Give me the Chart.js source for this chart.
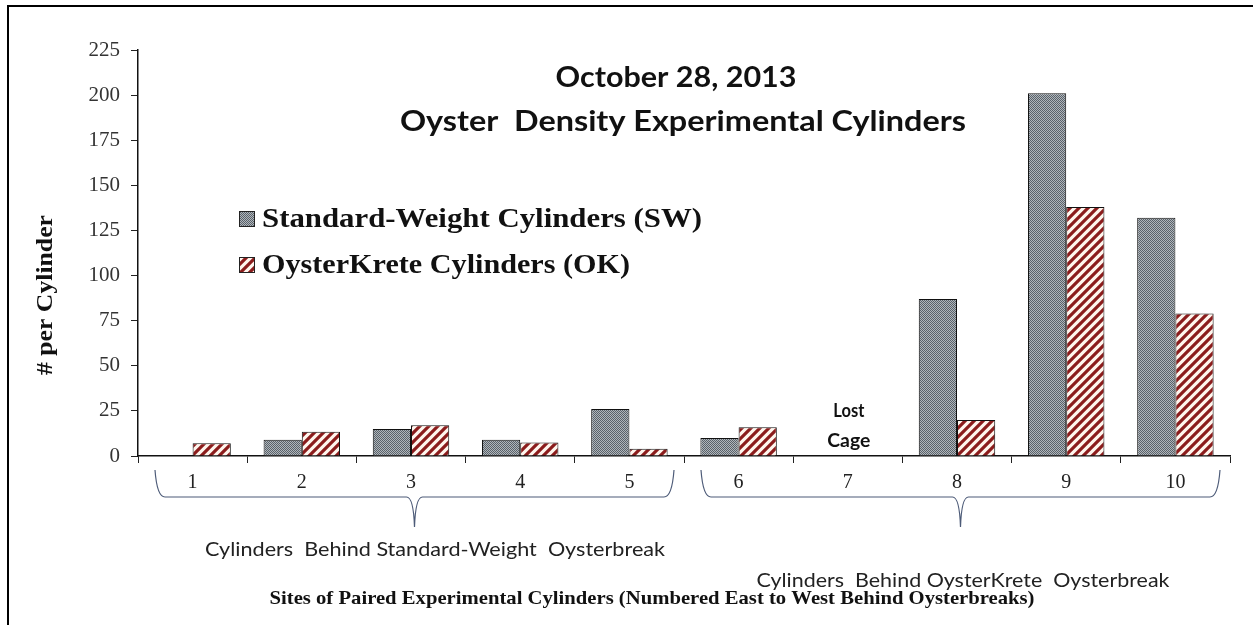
<!DOCTYPE html>
<html>
<head>
<meta charset="utf-8">
<script src="https://cdn.jsdelivr.net/npm/chart.js@4.4.0/dist/chart.umd.min.js"></script>
<style>
  html, body { margin: 0; padding: 0; background: #fff; }
  #wrap { width: 1253px; height: 625px; position: relative; }
</style>
</head>
<body>
<div id="wrap"><canvas id="myChart" width="1253" height="625"></canvas></div>
<script>
// data
const sites = ['1', '2', '3', '4', '5', '6', '7', '8', '9', '10'];
const swValues = [null, 9, 15, 9, 26, 10, null, 87, 201, 132];
const okValues = [7, 13.5, 17, 7.5, 4, 16, null, 20, 138, 79];
const yTicks = [0, 25, 50, 75, 100, 125, 150, 175, 200, 225];

const titleLines = ['October 28, 2013', 'Oyster  Density Experimental Cylinders'];
const seriesNames = ['Standard-Weight Cylinders (SW)', 'OysterKrete Cylinders (OK)'];
const groupNames = ['Cylinders  Behind Standard-Weight  Oysterbreak', 'Cylinders  Behind OysterKrete  Oysterbreak'];
const xTitle = 'Sites of Paired Experimental Cylinders (Numbered East to West Behind Oysterbreaks)';
const yTitle = '# per Cylinder';

// fill patterns
function stipple() {
    const c = document.createElement('canvas');
    c.width = 2; c.height = 2;
    const g = c.getContext('2d');
    g.fillStyle = '#b0b6ba'; g.fillRect(0, 0, 2, 2);
    g.fillStyle = '#59616a'; g.fillRect(0, 0, 1, 1); g.fillRect(1, 1, 1, 1);
    return g.createPattern(c, 'repeat');
}
function hatch() {
    const s = 9;
    const c = document.createElement('canvas');
    c.width = s; c.height = s;
    const g = c.getContext('2d');
    g.fillStyle = '#fff6ee'; g.fillRect(0, 0, s, s);
    g.strokeStyle = '#8b1c1c'; g.lineWidth = 3.2;
    g.beginPath();
    g.moveTo(-2, s + 2); g.lineTo(s + 2, -2);
    g.moveTo(-2, 2); g.lineTo(2, -2);
    g.moveTo(s - 2, s + 2); g.lineTo(s + 2, s - 2);
    g.stroke();
    return g.createPattern(c, 'repeat');
}
const swFill = stipple();
const okFill = hatch();

// text drawn stretched to a given width (the source image is wide)
function wideText(ctx, text, x, y, font, width, align) {
    ctx.save();
    ctx.font = font;
    const w = ctx.measureText(text).width;
    const k = width / w;
    ctx.textAlign = 'left';
    let left = x;
    if (align === 'center') left = x - width / 2;
    ctx.translate(left, y);
    ctx.scale(k, 1);
    ctx.fillText(text, 0, 0);
    ctx.restore();
}

// extra text, legend, braces, frame
const decor = {
    id: 'decor',
    afterDatasetsDraw(chart) {
        const ctx = chart.ctx;
        const x = chart.scales.x;
        ctx.save();

        // frame
        ctx.strokeStyle = '#000';
        ctx.lineWidth = 2;
        ctx.beginPath();
        ctx.moveTo(8, 625); ctx.lineTo(8, 6); ctx.lineTo(1253, 6);
        ctx.stroke();

        // title
        ctx.fillStyle = '#111';
        ctx.textBaseline = 'alphabetic';
        wideText(ctx, titleLines[0], 676, 87, 'bold 29px Lato', 241, 'center');
        wideText(ctx, titleLines[1], 683, 131, 'bold 29px Lato', 566, 'center');

        // legend
        const fills = [swFill, okFill];
        const rows = [227, 273];
        const widths = [440, 368];
        for (let i = 0; i < 2; i++) {
            ctx.fillStyle = fills[i];
            ctx.fillRect(239, rows[i] - 16, 16, 16);
            ctx.strokeStyle = '#222';
            ctx.lineWidth = 1;
            ctx.strokeRect(239.5, rows[i] - 15.5, 15, 15);
            ctx.fillStyle = '#111';
            wideText(ctx, seriesNames[i], 262, rows[i], 'bold 27px "Liberation Serif"', widths[i], 'left');
        }

        // y title
        ctx.save();
        ctx.translate(52, 295);
        ctx.rotate(-Math.PI / 2);
        ctx.fillStyle = '#111';
        wideText(ctx, yTitle, 0, 0, 'bold 24px "Liberation Serif"', 160, 'center');
        ctx.restore();

        // lost cage
        const x7 = x.getPixelForValue(6);
        ctx.fillStyle = '#111';
        wideText(ctx, 'Lost', x7 + 1, 417, 'bold 19px Lato', 31, 'center');
        wideText(ctx, 'Cage', x7 + 1, 447, 'bold 19px Lato', 43, 'center');

        // braces under the two groups
        const half = (x.getPixelForValue(1) - x.getPixelForValue(0)) / 2;
        const groups = [[0, 4], [5, 9]];
        ctx.strokeStyle = '#4d5b78';
        ctx.lineWidth = 1.2;
        groups.forEach(([a, b]) => {
            const l = x.getPixelForValue(a) - half + 17;
            const r = x.getPixelForValue(b) + half - 10;
            const m = (l + r) / 2;
            const top = 470, mid = 497, tip = 527;
            ctx.beginPath();
            ctx.moveTo(l, top);
            ctx.quadraticCurveTo(l + 2, mid, l + 10, mid);
            ctx.lineTo(m - 8, mid);
            ctx.quadraticCurveTo(m - 1, mid, m, tip);
            ctx.quadraticCurveTo(m + 1, mid, m + 8, mid);
            ctx.lineTo(r - 10, mid);
            ctx.quadraticCurveTo(r - 2, mid, r, top);
            ctx.stroke();
        });

        // group names
        ctx.fillStyle = '#222';
        wideText(ctx, groupNames[0], 435, 556, '20px Lato', 460, 'center');
        wideText(ctx, groupNames[1], 963, 587, '20px Lato', 413, 'center');

        // x title
        ctx.fillStyle = '#111';
        wideText(ctx, xTitle, 652, 604, 'bold 19px "Liberation Serif"', 765, 'center');

        ctx.restore();
    }
};

const ctx = document.getElementById('myChart').getContext('2d');
const myChart = new Chart(ctx, {
    type: 'bar',
    data: {
        labels: sites,
        datasets: [{
            label: seriesNames[0],
            data: swValues,
            backgroundColor: swFill,
            borderColor: '#111',
            borderWidth: 1
        }, {
            label: seriesNames[1],
            data: okValues,
            backgroundColor: okFill,
            borderColor: '#111',
            borderWidth: 1
        }]
    },
    options: {
        responsive: false,
        animation: false,
        categoryPercentage: 0.70,
        barPercentage: 1.0,
        layout: { padding: { left: 8, right: 23, top: 50, bottom: 0 } },
        plugins: {
            legend: { display: false },
            tooltip: { enabled: false }
        },
        scales: {
            x: {
                afterFit: s => { s.height = 169; },
                grid: {
                    offset: true,
                    drawOnChartArea: false,
                    color: '#222',
                    tickLength: 7
                },
                border: { color: '#111', width: 1.5 },
                ticks: {
                    color: '#222',
                    padding: 8,
                    font: { family: '"Liberation Serif"', size: 20 }
                }
            },
            y: {
                min: 0,
                max: 225,
                afterFit: s => { s.width = 130; },
                afterBuildTicks: s => { s.ticks = yTicks.map(v => ({ value: v })); },
                grid: {
                    drawOnChartArea: false,
                    color: '#222',
                    tickLength: 7
                },
                border: { color: '#111', width: 1.5 },
                ticks: {
                    color: '#333',
                    padding: 11,
                    font: { family: '"Liberation Serif"', size: 21 }
                }
            }
        }
    },
    plugins: [decor]
});
</script>
</body>
</html>
